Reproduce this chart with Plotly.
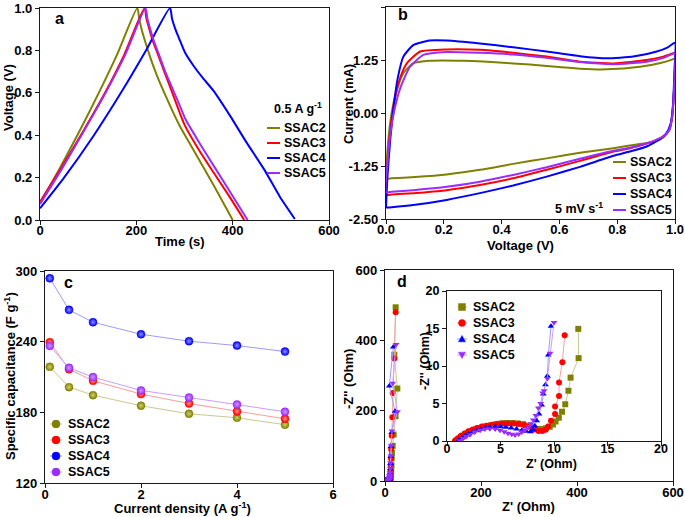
import plotly.graph_objects as go

W, H = 685, 517
FONT = "Liberation Sans"

names = ["SSAC2", "SSAC3", "SSAC4", "SSAC5"]
colors = ["#808000", "#ff0000", "#0000ff", "#9a2cff"]
light = ["#c9c98f", "#ff9c9c", "#9c9cff", "#cf9cff"]
tints = ["#d0d070", "#ff9090", "#9090ff", "#cc99ff"]

# ---------------- Panel a: GCD at 0.5 A g-1 ----------------
gcd_t_ssac2 = [0, 40, 80, 120, 160, 202, 206, 212, 220, 230, 243, 260, 280, 291, 301, 330, 364, 400]
gcd_v_ssac2 = [0.08, 0.24, 0.41, 0.59, 0.78, 1.0, 0.95, 0.89, 0.83, 0.76, 0.68, 0.59, 0.49, 0.44, 0.40, 0.285, 0.15, 0.0]
gcd_t_ssac3 = [0, 45, 90, 135, 175, 217, 221, 227, 235, 245, 258, 273, 291, 301, 330, 360, 392, 424]
gcd_v_ssac3 = [0.085, 0.25, 0.42, 0.60, 0.78, 1.0, 0.95, 0.90, 0.84, 0.78, 0.70, 0.61, 0.50, 0.445, 0.33, 0.225, 0.115, 0.0]
gcd_t_ssac4 = [0, 50, 112, 168, 220, 270, 274, 281, 290, 301, 318, 338, 360, 395, 429, 465, 498, 529]
gcd_v_ssac4 = [0.055, 0.2, 0.4, 0.6, 0.8, 1.0, 0.95, 0.90, 0.85, 0.79, 0.73, 0.67, 0.61, 0.49, 0.365, 0.24, 0.11, 0.005]
gcd_t_ssac5 = [0, 45, 90, 135, 177, 219, 223, 229, 237, 247, 260, 275, 291, 301, 332, 365, 398, 431]
gcd_v_ssac5 = [0.075, 0.24, 0.415, 0.595, 0.78, 1.0, 0.95, 0.90, 0.84, 0.78, 0.70, 0.62, 0.535, 0.48, 0.36, 0.24, 0.12, 0.0]

# ---------------- Panel b: CV at 5 mV s-1 ----------------
cv_v_ssac2 = [0, 0.005, 0.015, 0.025, 0.037, 0.06, 0.094, 0.152, 0.267, 0.44, 0.556, 0.671, 0.764, 0.879, 0.95, 0.994, 1.0,
              0.997, 0.99, 0.98, 0.96, 0.93, 0.879, 0.787, 0.671, 0.556, 0.44, 0.325, 0.21, 0.1, 0.02, 0.0]
cv_i_ssac2 = [-1.54, -0.9, -0.2, 0.2, 0.54, 0.94, 1.17, 1.23, 1.23, 1.17, 1.11, 1.045, 1.03, 1.09, 1.18, 1.27, 1.29,
              0.6, -0.1, -0.4, -0.58, -0.68, -0.73, -0.83, -0.94, -1.07, -1.20, -1.34, -1.45, -1.51, -1.54, -1.54]
cv_v_ssac3 = [0, 0.005, 0.015, 0.03, 0.05, 0.072, 0.118, 0.21, 0.325, 0.44, 0.556, 0.671, 0.787, 0.902, 0.96, 0.994, 1.0,
              0.997, 0.99, 0.98, 0.96, 0.93, 0.902, 0.844, 0.787, 0.671, 0.556, 0.44, 0.325, 0.21, 0.094, 0.02, 0.0]
cv_i_ssac3 = [-1.93, -1.2, -0.4, 0.3, 0.85, 1.17, 1.45, 1.50, 1.49, 1.42, 1.33, 1.21, 1.17, 1.25, 1.33, 1.41, 1.42,
              0.6, -0.1, -0.4, -0.55, -0.65, -0.72, -0.83, -0.91, -1.13, -1.34, -1.54, -1.70, -1.82, -1.89, -1.92, -1.93]
cv_v_ssac4 = [0, 0.005, 0.015, 0.025, 0.04, 0.06, 0.094, 0.15, 0.21, 0.325, 0.44, 0.556, 0.671, 0.764, 0.856, 0.937, 0.975, 1.0,
              0.998, 0.993, 0.985, 0.97, 0.95, 0.937, 0.902, 0.844, 0.787, 0.671, 0.556, 0.44, 0.325, 0.21, 0.094, 0.02, 0.0]
cv_i_ssac4 = [-2.22, -1.5, -0.6, 0.07, 0.8, 1.33, 1.60, 1.71, 1.71, 1.64, 1.55, 1.45, 1.34, 1.29, 1.33, 1.45, 1.55, 1.66,
              1.0, 0.2, -0.25, -0.48, -0.6, -0.66, -0.79, -0.91, -1.01, -1.27, -1.50, -1.71, -1.89, -2.05, -2.17, -2.22, -2.23]
cv_v_ssac5 = [0, 0.005, 0.015, 0.03, 0.05, 0.083, 0.129, 0.21, 0.325, 0.44, 0.556, 0.671, 0.787, 0.902, 0.96, 0.994, 1.0,
              0.997, 0.99, 0.98, 0.96, 0.93, 0.902, 0.844, 0.787, 0.671, 0.556, 0.44, 0.325, 0.21, 0.094, 0.02, 0.0]
cv_i_ssac5 = [-1.87, -1.2, -0.5, 0.1, 0.6, 1.09, 1.37, 1.44, 1.42, 1.38, 1.30, 1.20, 1.15, 1.21, 1.30, 1.40, 1.41,
              0.6, -0.1, -0.4, -0.55, -0.65, -0.72, -0.82, -0.89, -1.08, -1.28, -1.46, -1.62, -1.74, -1.82, -1.86, -1.87]

# ---------------- Panel c: rate capability ----------------
current_density = [0.1, 0.5, 1, 2, 3, 4, 5]
cap_ssac2 = [218.6, 201.4, 194.6, 185.6, 178.8, 175.4, 169.5]
cap_ssac3 = [239.5, 216.6, 206.8, 195.5, 187.5, 180.8, 174.5]
cap_ssac4 = [293.8, 267.0, 256.5, 246.3, 240.4, 236.7, 231.6]
cap_ssac5 = [236.4, 217.8, 209.9, 198.6, 192.6, 186.7, 180.5]

# ---------------- Panel d: Nyquist ----------------
eis_x_ssac2 = [0.9, 1.2, 1.5, 1.9, 2.3, 2.7, 3.1, 3.6, 4.1, 4.6, 5.1, 5.6, 6.1, 6.6, 7.1, 7.6, 8.1, 8.5, 8.9, 9.25, 9.6, 9.9, 10.15, 10.45, 10.75, 11.05, 11.35, 11.55, 12.3, 12.27]
eis_y_ssac2 = [0.1, 0.4, 0.7, 1.0, 1.3, 1.55, 1.75, 1.95, 2.1, 2.25, 2.35, 2.4, 2.4, 2.35, 2.25, 2.05, 1.8, 1.6, 1.6, 1.7, 1.9, 2.2, 2.6, 3.1, 3.9, 4.9, 6.7, 8.45, 11.05, 14.95]
eis_x_ssac3 = [0.75, 1.0, 1.3, 1.65, 2.0, 2.4, 2.8, 3.25, 3.7, 4.2, 4.7, 5.2, 5.7, 6.2, 6.7, 7.2, 7.7, 8.15, 8.55, 8.9, 9.2, 9.45, 9.72, 10.1, 10.1, 10.47, 10.47, 10.78, 11.0]
eis_y_ssac3 = [0.05, 0.35, 0.7, 1.0, 1.3, 1.55, 1.75, 1.92, 2.05, 2.17, 2.27, 2.33, 2.35, 2.33, 2.28, 2.15, 1.9, 1.55, 1.35, 1.33, 1.5, 1.95, 2.7, 3.6, 4.6, 6.0, 7.8, 10.5, 14.1]
eis_x_ssac4 = [1.1, 1.4, 1.7, 2.0, 2.4, 2.8, 3.2, 3.6, 4.0, 4.5, 5.0, 5.5, 6.0, 6.5, 7.0, 7.4, 7.8, 8.05, 8.2, 8.38, 8.6, 8.85, 9.0, 9.2, 9.38, 9.47, 9.72]
eis_y_ssac4 = [0.1, 0.4, 0.7, 0.95, 1.2, 1.4, 1.6, 1.75, 1.85, 1.9, 1.9, 1.85, 1.75, 1.6, 1.45, 1.3, 1.25, 1.5, 2.0, 2.7, 3.6, 4.8, 6.27, 7.5, 8.67, 11.47, 15.3]
eis_x_ssac5 = [1.2, 1.5, 1.8, 2.15, 2.6, 3.1, 3.55, 4.0, 4.5, 4.95, 5.35, 5.7, 6.05, 6.36, 6.7, 7.0, 7.3, 7.6, 7.85, 8.07, 8.3, 8.54, 8.75, 8.94, 9.07, 9.38, 9.63, 10.0]
eis_y_ssac5 = [0.05, 0.35, 0.6, 0.85, 1.2, 1.45, 1.6, 1.65, 1.6, 1.45, 1.25, 1.05, 0.9, 0.8, 0.95, 1.2, 1.5, 1.9, 2.3, 2.8, 3.4, 4.4, 5.0, 6.4, 6.7, 8.35, 11.7, 15.8]
# low-frequency tails (visible only in the full-range plot)
tail_x_ssac2 = [12.5, 13.0, 13.5, 14.0, 14.5, 16.0, 18.0, 22.0, 25.7, 19.4, 22.2]
tail_y_ssac2 = [20, 30, 45, 65, 80, 100, 132, 184, 263, 359, 494]
tail_x_ssac3 = [11.3, 11.7, 12.1, 12.5, 12.8, 14.0, 15.3, 16.0, 19.4, 22.2]
tail_y_ssac3 = [19, 28, 45, 65, 91, 129, 181, 250, 348, 480]
tail_x_ssac4 = [10.5, 11.0, 11.5, 12.0, 12.5, 14.0, 21.0, 9.0, 17.4]
tail_y_ssac4 = [22, 35, 50, 70, 98, 138, 198, 270, 381]
tail_x_ssac5 = [10.5, 11.0, 11.6, 12.2, 12.8, 14.5, 26.0, 16.0, 23.0]
tail_y_ssac5 = [23, 36, 52, 72, 100, 142, 197, 278, 388]

yticks_b = [-2.5, -1.25, 0, 1.25, 2.5]
yticklabels_b = ["-2.50", "-1.25", "0.00", "1.25", "2.50"]

# ---------------- figure ----------------
gcd = [(gcd_t_ssac2, gcd_v_ssac2), (gcd_t_ssac3, gcd_v_ssac3), (gcd_t_ssac4, gcd_v_ssac4), (gcd_t_ssac5, gcd_v_ssac5)]
cv = [(cv_v_ssac2, cv_i_ssac2), (cv_v_ssac3, cv_i_ssac3), (cv_v_ssac4, cv_i_ssac4), (cv_v_ssac5, cv_i_ssac5)]
caps = [cap_ssac2, cap_ssac3, cap_ssac4, cap_ssac5]
eis = [(eis_x_ssac2, eis_y_ssac2), (eis_x_ssac3, eis_y_ssac3), (eis_x_ssac4, eis_y_ssac4), (eis_x_ssac5, eis_y_ssac5)]
tails = [(tail_x_ssac2, tail_y_ssac2), (tail_x_ssac3, tail_y_ssac3), (tail_x_ssac4, tail_y_ssac4), (tail_x_ssac5, tail_y_ssac5)]
symbols = ["square", "circle", "triangle-up", "triangle-down"]

fig = go.Figure()
for i, n in enumerate(names):
    t, v = gcd[i]
    fig.add_trace(go.Scatter(x=t, y=v, mode="lines", name=n, showlegend=False,
                             line=dict(color=colors[i], width=2, shape="spline", smoothing=0.6),
                             xaxis="x", yaxis="y"))
for i, n in enumerate(names):
    v, c = cv[i]
    fig.add_trace(go.Scatter(x=v, y=c, mode="lines", name=n, showlegend=False,
                             line=dict(color=colors[i], width=2, shape="spline", smoothing=0.5),
                             xaxis="x2", yaxis="y2"))
for i, n in enumerate(names):
    fig.add_trace(go.Scatter(x=current_density, y=caps[i], mode="lines+markers", name=n, showlegend=False,
                             line=dict(color=light[i], width=1),
                             marker=dict(color=colors[i], size=8, line=dict(color=colors[i], width=0.5),
                                         gradient=dict(type="radial", color=tints[i])),
                             xaxis="x3", yaxis="y3"))
for i, n in enumerate(names):
    ex, ey = eis[i]
    tx, ty = tails[i]
    fig.add_trace(go.Scatter(x=ex + tx, y=ey + ty, mode="lines+markers", name=n, showlegend=False,
                             line=dict(color=light[i], width=1),
                             marker=dict(color=colors[i], size=6, symbol=symbols[i]),
                             xaxis="x4", yaxis="y4"))
for i, n in enumerate(names):
    ex, ey = eis[i]
    fig.add_trace(go.Scatter(x=ex, y=ey, mode="lines+markers", name=n, showlegend=False,
                             line=dict(color=light[i], width=1),
                             marker=dict(color=colors[i], size=6, symbol=symbols[i]),
                             cliponaxis=True, xaxis="x5", yaxis="y5"))


def dom_x(a, b):
    return [a / W, b / W]


def dom_y(top, bottom):
    return [1 - bottom / H, 1 - top / H]


def ax(**kw):
    d = dict(showline=True, linecolor="#1a1a1a", linewidth=1.3, mirror=True, ticks="outside",
             ticklen=4, tickwidth=1.3, tickcolor="#1a1a1a", showgrid=False, zeroline=False,
             automargin=False,
             tickfont=dict(family=FONT, size=13, color="black", weight="bold"))
    d.update(kw)
    return d


fig.update_layout(
    width=W, height=H, margin=dict(l=0, r=0, t=0, b=0, pad=0), autosize=False,
    paper_bgcolor="white", plot_bgcolor="white", showlegend=False,
    xaxis=ax(domain=dom_x(40, 329), range=[0, 600], dtick=200, anchor="y", ticklabelstandoff=-6),
    yaxis=ax(domain=dom_y(8, 220), range=[0, 1], dtick=0.2, tickformat=".1f", anchor="x"),
    xaxis2=ax(domain=dom_x(386, 675), range=[0, 1], dtick=0.2, tickformat=".1f", anchor="y2", ticklabelstandoff=-6),
    yaxis2=ax(domain=dom_y(7, 219), range=[-2.5, 2.5], tickvals=yticks_b, ticktext=yticklabels_b, anchor="x2"),
    xaxis3=ax(domain=dom_x(45, 333), range=[0, 6], dtick=2, anchor="y3", ticklabelstandoff=-5),
    yaxis3=ax(domain=dom_y(271, 483), range=[120, 300], dtick=60, anchor="x3"),
    xaxis4=ax(domain=dom_x(385, 673), range=[0, 600], dtick=200, anchor="y4", ticklabelstandoff=-5),
    yaxis4=ax(domain=dom_y(270, 481), range=[0, 600], dtick=200, anchor="x4"),
    xaxis5=ax(domain=dom_x(447, 661), range=[0, 20], dtick=5, anchor="y5", ticklabelstandoff=-8,
              tickfont=dict(family=FONT, size=12.5, color="black", weight="bold")),
    yaxis5=ax(domain=dom_y(291, 441), range=[0, 20], dtick=5, anchor="x5",
              tickfont=dict(family=FONT, size=12.5, color="black", weight="bold")),
)


def text(x, y, s, size=13, xanchor="center", angle=0):
    fig.add_annotation(xref="paper", yref="paper", x=x / W, y=1 - y / H, text=s, showarrow=False,
                       xanchor=xanchor, yanchor="middle", textangle=angle,
                       font=dict(family=FONT, size=size, color="black", weight="bold"))


def hline(x0, x1, y, color, width):
    fig.add_shape(type="line", xref="paper", yref="paper", x0=x0 / W, x1=x1 / W,
                  y0=1 - y / H, y1=1 - y / H, line=dict(color=color, width=width))


def glyph(kind, cx, cy, r, color):
    if kind == "circle":
        fig.add_shape(type="circle", xref="paper", yref="paper",
                      x0=(cx - r) / W, x1=(cx + r) / W, y0=1 - (cy + r) / H, y1=1 - (cy - r) / H,
                      fillcolor=color, line=dict(color=color, width=0.5))
    elif kind == "square":
        fig.add_shape(type="rect", xref="paper", yref="paper",
                      x0=(cx - r) / W, x1=(cx + r) / W, y0=1 - (cy + r) / H, y1=1 - (cy - r) / H,
                      fillcolor=color, line=dict(color=color, width=0.5))
    else:
        if kind == "triangle-up":
            pts = [(cx, cy - r), (cx + r, cy + r * 0.8), (cx - r, cy + r * 0.8)]
        else:
            pts = [(cx, cy + r), (cx + r, cy - r * 0.8), (cx - r, cy - r * 0.8)]
        path = "M " + " L ".join(f"{px / W},{1 - py / H}" for px, py in pts) + " Z"
        fig.add_shape(type="path", xref="paper", yref="paper", path=path,
                      fillcolor=color, line=dict(color=color, width=0.5))


# panel letters
text(59, 18, "a", 16)
text(403, 15, "b", 16)
text(68, 282, "c", 16)
text(402, 281, "d", 16)

# axis titles
text(180, 241, "Time (s)")
text(8, 98, "Voltage (V)", angle=-90)
text(520, 246, "Voltage (V)")
text(348, 104, "Current (mA)", angle=-90)
text(182, 508, "Current density (A g<sup>-1</sup>)")
text(10, 376, "Specific capacitance (F g<sup>-1</sup>)", angle=-90)
text(528, 506, "Z' (Ohm)")
text(348, 379, "-Z'' (Ohm)", angle=-90)
text(551, 464, "Z' (Ohm)", 12.5)
text(425, 361, "-Z'' (Ohm)", 12.5, angle=-90)

# legend a
text(272, 108, "0.5 A g<sup>-1</sup>", 12.5, xanchor="left")
for i, n in enumerate(names):
    y = 128 + i * 15
    hline(267, 280, y, colors[i], 2)
    text(282, y, n, 12.5, xanchor="left")

# legend b
for i, n in enumerate(names):
    y = 162 + i * 16
    hline(613, 626, y, colors[i], 2)
    text(628, y, n, 12.5, xanchor="left")
text(605, 208, "5 mV s<sup>-1</sup>", 12.5, xanchor="right")

# legend c
for i, n in enumerate(names):
    y = 424 + i * 16
    hline(50, 62, y, light[i], 1)
    glyph("circle", 56, y, 4, colors[i])
    text(66, y, n, 12.5, xanchor="left")

# legend d (inset)
for i, n in enumerate(names):
    y = 307 + i * 16
    hline(457, 467, y, light[i], 1)
    glyph(symbols[i], 462, y, 3.5, colors[i])
    text(471, y, n, 12.5, xanchor="left")

fig.write_html("out.html", config={"displayModeBar": False},
               post_script="document.body.style.margin='0';document.body.style.overflow='hidden';")
